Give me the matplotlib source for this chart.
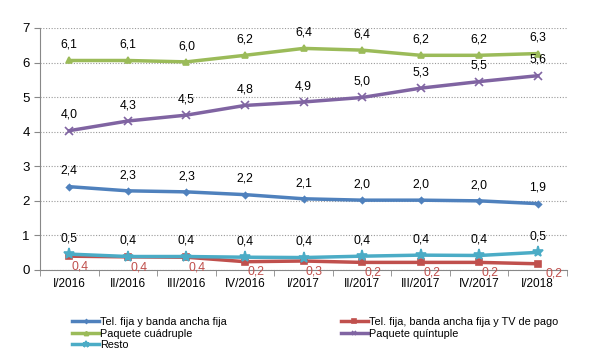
import numpy as np
import matplotlib.pyplot as plt

plt.rcParams['font.family'] = ['Liberation Sans', 'DejaVu Sans']

quarters = ["I/2016", "II/2016", "III/2016", "IV/2016", "I/2017",
            "II/2017", "III/2017", "IV/2017", "I/2018"]

tel_banda = [2.41, 2.29, 2.26, 2.18, 2.06, 2.02, 2.02, 2.00, 1.92]
tel_banda_tv = [0.40, 0.38, 0.37, 0.24, 0.26, 0.22, 0.22, 0.22, 0.18]
cuadruple = [6.06, 6.06, 6.02, 6.21, 6.41, 6.36, 6.21, 6.21, 6.26]
quintuple = [4.03, 4.31, 4.48, 4.76, 4.86, 4.99, 5.26, 5.45, 5.62]
resto = [0.46, 0.39, 0.39, 0.37, 0.36, 0.40, 0.43, 0.42, 0.51]

series = [
    ("Tel. fija y banda ancha fija", tel_banda, "#4F81BD", "D", 3, "above"),
    ("Tel. fija, banda ancha fija y TV de pago", tel_banda_tv, "#C0504D", "s", 4, "below"),
    ("Paquete cuádruple", cuadruple, "#9BBB59", "^", 5, "above"),
    ("Paquete quíntuple", quintuple, "#8064A2", "x", 6, "above"),
    ("Resto", resto, "#4BACC6", "*", 8, "above"),
]


def fmt(v):
    return f"{v:.1f}".replace(".", ",")


def main():
    fig = plt.figure(figsize=(6.09, 3.58), dpi=100)
    ax = fig.add_axes([40 / 609, 1 - 270 / 358, 527 / 609, 242 / 358])
    x = np.arange(len(quarters))

    handles = {}
    for name, vals, color, marker, ms, pos in series:
        ln, = ax.plot(x, vals, color=color, lw=2.5, marker=marker, ms=ms,
                      mew=1.2, label=name)
        handles[name] = ln
        for xi, v in zip(x, vals):
            if pos == "above":
                ax.annotate(fmt(v), (xi, v), xytext=(0, 7), textcoords="offset points",
                            ha="center", va="bottom", fontsize=8.8, color="black")
            else:
                dx = 11 if xi < len(x) - 1 else 16
                ax.annotate(fmt(v), (xi, v), xytext=(dx * 0.72, -3), textcoords="offset points",
                            ha="center", va="top", fontsize=8.8, color=color)

    ax.set_xlim(-0.5, len(quarters) - 0.5)
    ax.set_ylim(0, 7)
    ax.set_yticks(range(0, 8))
    ax.set_xticks(x)
    ax.set_xticklabels(quarters, fontsize=8.5)
    ax.set_xticks(np.arange(-0.5, len(quarters), 1), minor=True)
    ax.tick_params(axis="x", which="major", length=0, pad=6)
    ax.tick_params(axis="x", which="minor", length=4, color="#888888")
    ax.tick_params(axis="y", length=4, color="#888888", labelsize=9.5)
    ax.grid(axis="y", linestyle=(0, (1, 1.5)), color="#999999", lw=0.8)
    ax.set_axisbelow(True)
    for s in ["top", "right"]:
        ax.spines[s].set_visible(False)
    for s in ["left", "bottom"]:
        ax.spines[s].set_color("#888888")

    order = ["Tel. fija y banda ancha fija", "Paquete cuádruple", "Resto",
             "Tel. fija, banda ancha fija y TV de pago", "Paquete quíntuple"]
    fig.legend([handles[n] for n in order], order, ncol=2, loc="upper left",
               bbox_to_anchor=(72 / 609, 1 - 317 / 358), frameon=False,
               fontsize=7.8, handlelength=2.5, handletextpad=0.1, borderpad=0,
               borderaxespad=0, labelspacing=0.15, columnspacing=10.5,
               markerscale=0.6)

    fig.savefig("out.png", dpi=100)


if __name__ == "__main__":
    main()
